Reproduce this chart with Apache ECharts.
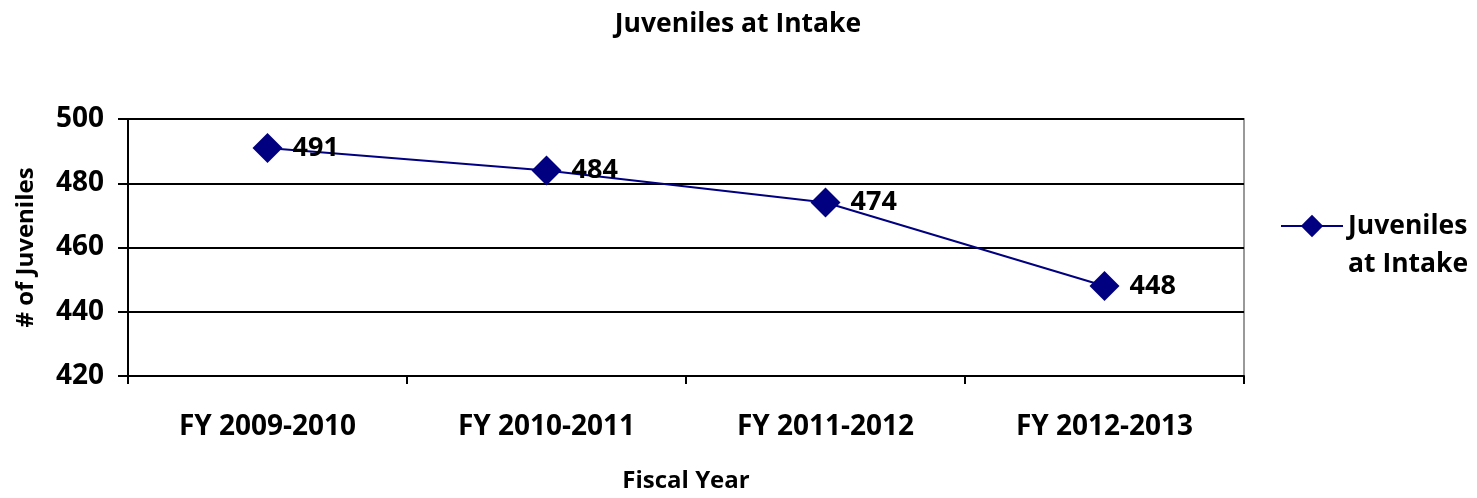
<!DOCTYPE html>
<html><head><meta charset="utf-8">
<script src="https://cdn.jsdelivr.net/npm/echarts@6/dist/echarts.min.js"></script>
<style>html,body{margin:0;padding:0;background:#fff}#c{width:1477px;height:498px}</style>
</head><body><div id="c"></div>
<script>
const categories = ['FY 2009-2010','FY 2010-2011','FY 2011-2012','FY 2012-2013'];
const values = [491, 484, 474, 448];
const seriesName = 'Juveniles at Intake';
const yTicks = {min: 420, max: 500, interval: 20};
const FONT = 'Open Sans';
const chart = echarts.init(document.getElementById('c'));
chart.setOption({
  animation: false,
  backgroundColor: '#fff',
  textStyle: {fontFamily: FONT, fontWeight: 'bold', color: '#000'},
  title: {text: 'Juveniles at Intake', top: 6, left: 733, textAlign: 'center',
    textStyle: {fontFamily: FONT, fontWeight: 'bold', fontSize: 26.5, color: '#000'}},
  legend: {
    data: [seriesName], left: 1280, top: 169, padding: 0,
    itemWidth: 62, itemHeight: 28, itemGap: 0,
    formatter: () => ' \nJuveniles\nat Intake',
    textStyle: {fontFamily: FONT, fontWeight: 'bold', fontSize: 26.5, color: '#000', lineHeight: 38}
  },
  grid: {left: 128, right: 233, top: 119, bottom: 121, show: true, borderColor: '#999', borderWidth: 2, backgroundColor: 'transparent'},
  xAxis: {
    type: 'category', data: categories, boundaryGap: true,
    name: 'Fiscal Year', nameLocation: 'middle', nameGap: 93,
    nameTextStyle: {fontFamily: FONT, fontWeight: 'bold', fontSize: 24, color: '#000'},
    axisLine: {lineStyle: {color: '#000', width: 2}},
    axisTick: {show: true, length: 8, lineStyle: {color: '#000', width: 2}},
    axisLabel: {margin: 37, fontFamily: FONT, fontWeight: 'bold', fontSize: 28, color: '#000'},
    splitLine: {show: false}
  },
  yAxis: {
    type: 'value', min: yTicks.min, max: yTicks.max, interval: yTicks.interval,
    name: '# of Juveniles', nameLocation: 'middle', nameGap: 90, nameRotate: 90,
    nameTextStyle: {fontFamily: FONT, fontWeight: 'bold', fontSize: 24, color: '#000'},
    axisLine: {show: true, lineStyle: {color: '#000', width: 2}},
    axisTick: {show: true, length: 10, lineStyle: {color: '#000', width: 2}},
    axisLabel: {margin: 24, fontFamily: FONT, fontWeight: 'bold', fontSize: 28, color: '#000'},
    splitLine: {show: true, lineStyle: {color: ['#000','#000','#000','#000','#000','#999'], width: 2}}
  },
  series: [{
    name: seriesName, type: 'line', data: values,
    symbol: 'diamond', symbolSize: [30, 30],
    lineStyle: {color: '#000080', width: 2},
    itemStyle: {color: '#000080'},
    label: {show: true, position: 'right', distance: 10, fontFamily: FONT, fontWeight: 'bold', fontSize: 27, color: '#000'}
  }]
});
</script></body></html>
